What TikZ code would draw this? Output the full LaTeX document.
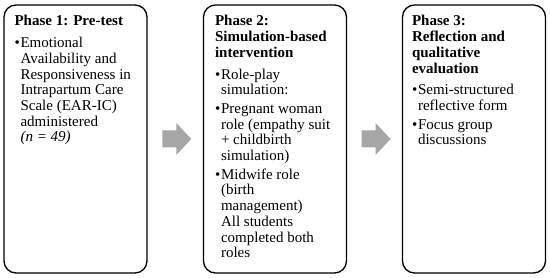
\documentclass[tikz,border=0pt]{standalone}
\usepackage{fontspec}
\setmainfont{Liberation Serif}
\usepackage{xcolor}
\usepackage{tikz}
\usetikzlibrary{positioning,calc}
\definecolor{arrowgray}{HTML}{A6A6A6}
\newcommand{\bul}{\makebox[6pt][l]{\textbullet}}
\newcommand{\ind}{\hspace*{6pt}}

\begin{document}
\begin{tikzpicture}[x=1pt,y=1pt,
    phasebox/.style={draw,line width=1.3pt,rounded corners=12pt,minimum width=143pt,minimum height=268pt,inner sep=0pt},
    phasetext/.style={anchor=north west,inner sep=0pt,align=left,font=\fontsize{15}{15.7}\selectfont},
    phasearrow/.pic={\fill[arrowgray] (-14.5,8.5) -- (-0.5,8.5) -- (-0.5,16) -- (14.5,0) -- (-0.5,-16) -- (-0.5,-8.5) -- (-14.5,-8.5) -- cycle;}]
    \useasboundingbox (0,0) rectangle (550,278);
    \node[phasebox] (p1) at (75.5,139) {};
    \node[phasebox] (p2) at (275,139) {};
    \node[phasebox] (p3) at (474,139) {};
    \node[phasetext] (t1) at ($(p1.north west)+(11,-11)$) {\textbf{Phase 1: Pre-test}\\[6pt]
      \bul Emotional\\ \ind Availability and\\ \ind Responsiveness in\\ \ind Intrapartum Care\\
      \ind Scale (EAR-IC)\\ \ind administered\\ \ind\textit{(n = 49)}};
    \node[phasetext] (t2) at ($(p2.north west)+(12,-11)$) {\textbf{Phase 2:}\\ \textbf{Simulation-based}\\ \textbf{intervention}\\[6pt]
      \bul Role-play\\ \ind simulation:\\[3pt]
      \bul Pregnant woman\\ \ind role (empathy suit\\ \ind + childbirth\\ \ind simulation)\\[3pt]
      \bul Midwife role\\ \ind (birth\\ \ind management)\\ \ind All students\\ \ind completed both\\ \ind roles};
    \node[phasetext] (t3) at ($(p3.north west)+(10,-11)$) {\textbf{Phase 3:}\\ \textbf{Reflection and}\\ \textbf{qualitative}\\ \textbf{evaluation}\\[6pt]
      \bul Semi-structured\\ \ind reflective form\\[3pt]
      \bul Focus group\\ \ind discussions};
    \pic at ($(p1.east)!0.5!(p2.west)+(1.5,0)$) {phasearrow};
    \pic at ($(p2.east)!0.5!(p3.west)+(1.5,0)$) {phasearrow};
  \end{tikzpicture}
\end{document}
